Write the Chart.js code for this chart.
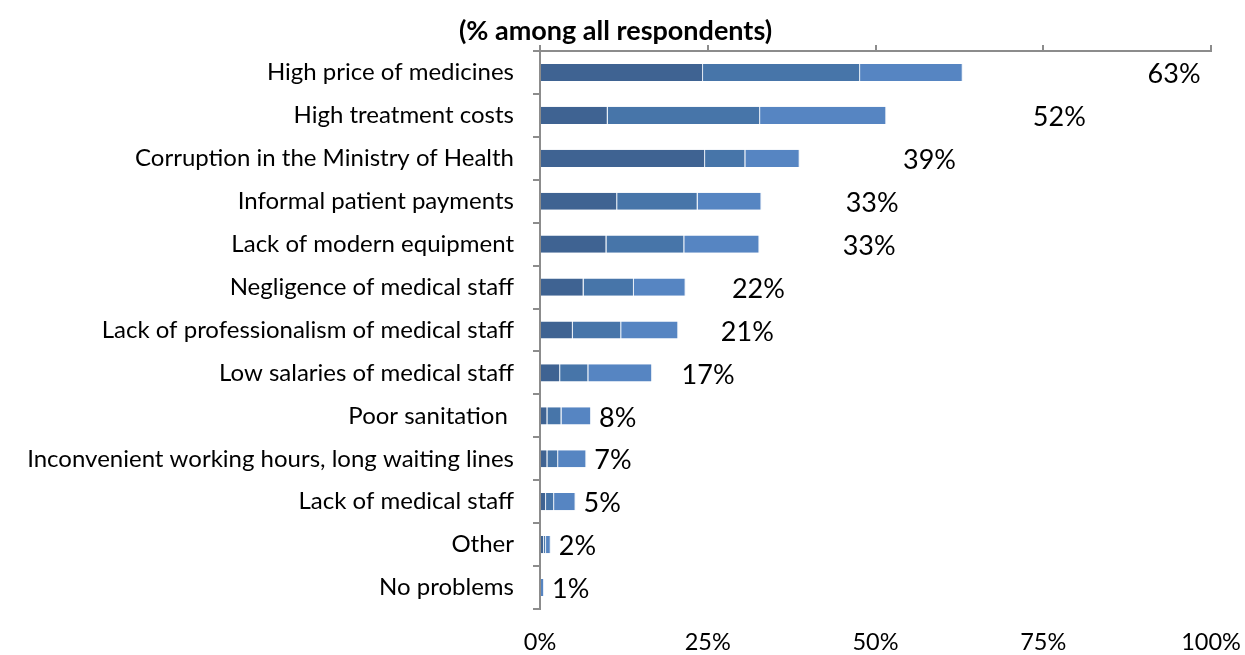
<!DOCTYPE html>
<html lang="en">
<head>
    <meta charset="UTF-8">
    <title>Health care problems</title>
    <script src="https://cdn.jsdelivr.net/npm/chart.js"></script>
    <style>
        html, body {
            margin: 0;
            padding: 0;
            background: #fff;
        }
        .wrap {
            width: 1245px;
            height: 655px;
        }
    </style>
</head>
<body>
    <div class="wrap">
        <canvas id="problemsChart" width="1245" height="655"></canvas>
    </div>

    <script>
        const categories = [
            'High price of medicines',
            'High treatment costs',
            'Corruption in the Ministry of Health',
            'Informal patient payments',
            'Lack of modern equipment',
            'Negligence of medical staff',
            'Lack of professionalism of medical staff',
            'Low salaries of medical staff',
            'Poor sanitation ',
            'Inconvenient working hours, long waiting lines',
            'Lack of medical staff',
            'Other',
            'No problems'
        ];

        // three stacked parts of each bar (dark, medium, light)
        const partDark = [24.3, 10.1, 24.6, 11.5, 9.9, 6.5, 4.9, 3.0, 1.1, 1.1, 0.9, 0.6, 0];
        const partMid = [23.4, 22.7, 6.0, 12.0, 11.6, 7.5, 7.2, 4.2, 2.1, 1.6, 1.2, 0.3, 0];
        const partLight = [15.3, 18.8, 8.1, 9.5, 11.2, 7.7, 8.5, 9.5, 4.4, 4.2, 3.2, 0.7, 0.6];

        const axisTicks = [0, 25, 50, 75, 100];

        const labelFont = 'Lato, "Open Sans", sans-serif';
        const axisGray = '#8c8c8c';

        // sum of the three parts, shown as a percent label next to each bar
        const totals = categories.map((c, i) => partDark[i] + partMid[i] + partLight[i]);

        const totalLabels = {
            id: 'totalLabels',
            afterDatasetsDraw(chart) {
                const ctx = chart.ctx;
                const x = chart.scales.x;
                const y = chart.scales.y;
                ctx.save();
                ctx.font = '27px ' + labelFont;
                ctx.fillStyle = '#000';
                ctx.textAlign = 'center';
                ctx.textBaseline = 'middle';
                totals.forEach((t, i) => {
                    const text = Math.round(t) + '%';
                    const w = ctx.measureText(text).width;
                    const barEnd = x.getPixelForValue(t);
                    let cx = x.getPixelForValue(t * 1.5);
                    // keep short bars' labels clear of the bar end
                    if (cx - w / 2 < barEnd + 8) cx = barEnd + 8 + w / 2;
                    ctx.fillText(text, cx, y.getPixelForValue(i) + 2);
                });
                ctx.restore();
            }
        };

        function makeSet(label, data, color) {
            return {
                label: label,
                data: data,
                backgroundColor: color,
                borderColor: 'rgba(200, 215, 235, 0.5)',
                borderWidth: { left: 0, right: 1, top: 0, bottom: 0 },
                borderSkipped: false,
                barPercentage: 0.4,
                categoryPercentage: 1.0,
                xAxisID: 'x',
                yAxisID: 'y'
            };
        }

        // horizontal axes reserve a fixed right margin for the chart area
        function fixPadding(s) {
            s.paddingLeft = 0;
            s.paddingRight = 34;
        }

        const ctx = document.getElementById('problemsChart').getContext('2d');
        new Chart(ctx, {
            type: 'bar',
            data: {
                labels: categories,
                datasets: [
                    makeSet('part 1', partDark, '#3f6392'),
                    makeSet('part 2', partMid, '#4775a9'),
                    makeSet('part 3', partLight, '#5685c2')
                ]
            },
            options: {
                indexAxis: 'y',
                responsive: false,
                animation: false,
                layout: {
                    padding: { left: 0, right: 14, top: 0, bottom: 0 }
                },
                plugins: {
                    legend: { display: false },
                    tooltip: { enabled: false },
                    title: {
                        display: true,
                        text: '(% among all respondents)',
                        color: '#000',
                        font: { family: labelFont, size: 27, weight: 'bold', lineHeight: 1 },
                        padding: { top: 18, bottom: 0 }
                    }
                },
                scales: {
                    x: {
                        position: 'top',
                        stacked: true,
                        min: 0,
                        max: 100,
                        afterBuildTicks: (s) => { s.ticks = axisTicks.map(v => ({ value: v })); },
                        afterFit: fixPadding,
                        border: { display: true, color: axisGray, width: 2 },
                        grid: {
                            drawOnChartArea: false,
                            drawTicks: true,
                            tickLength: 6,
                            color: axisGray,
                            lineWidth: 2
                        },
                        ticks: { display: false }
                    },
                    x2: {
                        position: 'bottom',
                        min: 0,
                        max: 100,
                        afterBuildTicks: (s) => { s.ticks = axisTicks.map(v => ({ value: v })); },
                        afterFit: (s) => {
                            s.height = 46;
                            fixPadding(s);
                        },
                        border: { display: false },
                        grid: { display: false },
                        ticks: {
                            padding: 11,
                            color: '#000',
                            font: { family: labelFont, size: 23.5 },
                            callback: (v) => v + '%'
                        }
                    },
                    y: {
                        stacked: true,
                        afterFit: (s) => { s.width = 540; },
                        border: { display: true, color: axisGray, width: 2 },
                        grid: {
                            offset: true,
                            drawOnChartArea: false,
                            drawTicks: true,
                            tickLength: 7,
                            color: axisGray,
                            lineWidth: 2
                        },
                        ticks: {
                            padding: 19,
                            color: '#000',
                            font: { family: labelFont, size: 24 }
                        }
                    }
                }
            },
            plugins: [totalLabels]
        });
    </script>
</body>
</html>
